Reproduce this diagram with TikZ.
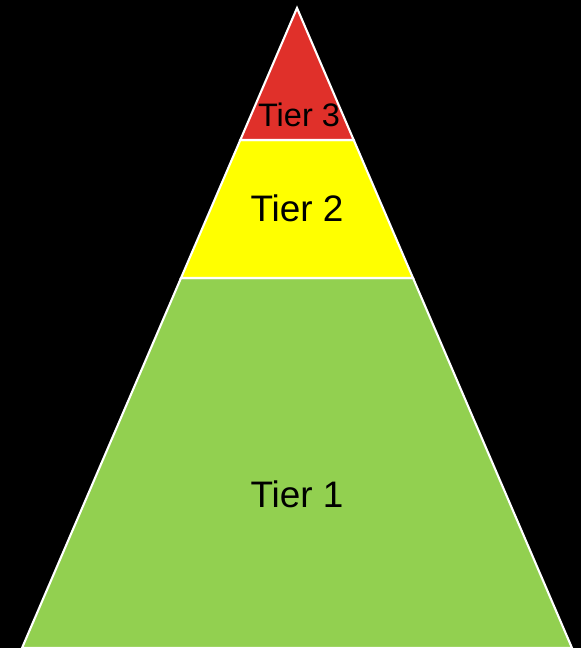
\documentclass[tikz,border=0pt]{standalone}
\usepackage{fontspec}
\setmainfont{Liberation Sans}
\usetikzlibrary{positioning,calc}
\definecolor{tierred}{HTML}{E0302A}
\definecolor{tieryellow}{HTML}{FFFF00}
\definecolor{tiergreen}{HTML}{92D050}
\tikzset{
    tier/.style = {
        draw=white,
        line width=1.2pt,
        line join=miter
    },
    label/.style = {
        text=black,
        font=\fontsize{21}{24}\selectfont
    },
    smalllabel/.style = {
        text=black,
        font=\fontsize{18.5}{22}\selectfont
    },
}

\begin{document}
\begin{tikzpicture}[x=0.02cm,y=-0.02cm]
        \fill[black] (0,0) rectangle (581,648);
        \useasboundingbox (0,0) rectangle (581,648);

        \coordinate (top) at (297,8);
        \coordinate (l3) at (240.3,140);
        \coordinate (r3) at (353.7,140);
        \coordinate (l2) at (181,278);
        \coordinate (r2) at (413,278);
        \coordinate (l1) at (22,648);
        \coordinate (r1) at (572,648);

        \path[tier, fill=tiergreen] (l2) -- (r2) -- (r1) -- (l1) -- cycle;
        \path[tier, fill=tieryellow] (l3) -- (r3) -- (r2) -- (l2) -- cycle;
        \path[tier, fill=tierred] (top) -- (r3) -- (l3) -- cycle;

        \node[smalllabel] (t3) at (299,115) {Tier 3};
        \node[label] (t2) at (297,208) {Tier 2};
        \node[label] (t1) at (297,494) {Tier 1};
\end{tikzpicture}
\end{document}
